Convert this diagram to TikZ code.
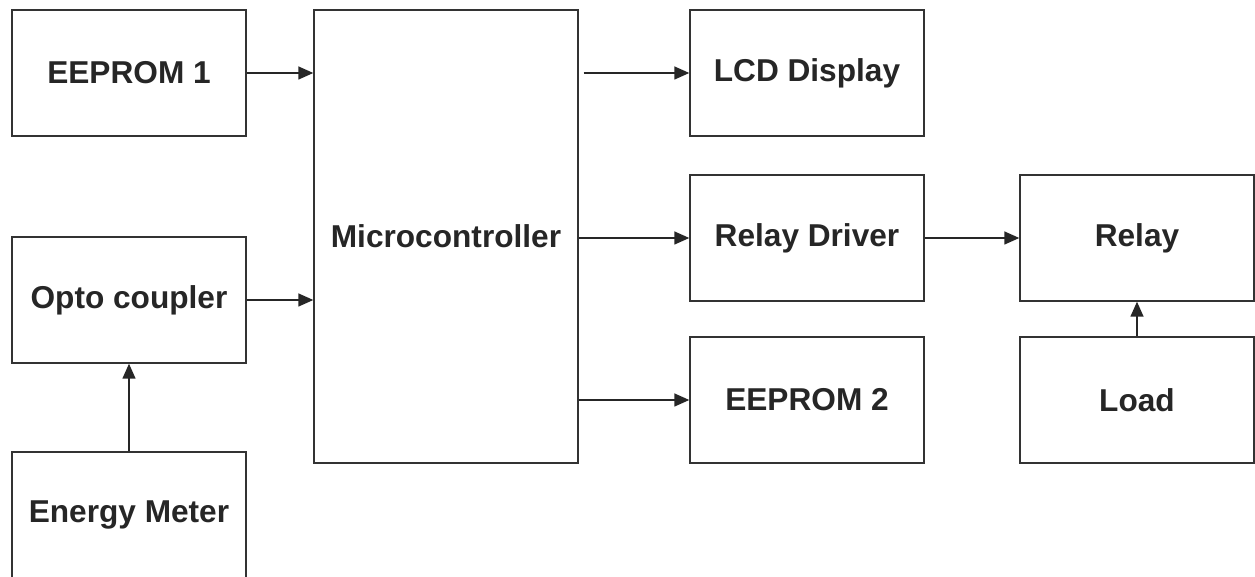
\documentclass[tikz,border=0pt]{standalone}
\usepackage{fontspec}
\setmainfont{Liberation Sans}
\usetikzlibrary{arrows.meta}

\begin{document}
\begin{tikzpicture}[x=0.02cm, y=-0.02cm,
        block/.style={draw=black!80, line width=0.8pt, minimum width=4.68cm, minimum height=2.52cm,
            inner sep=0pt, font=\fontsize{18}{21}\selectfont\bfseries, text=black!85},
        link/.style={draw=black!85, line width=0.8pt, -{Triangle[length=3mm, width=2.6mm]}}]
        \useasboundingbox (0,0) rectangle (1255,577);

        % bloky vlevo
        \node[block] (eeprom1) at (129,73) {EEPROM 1};
        \node[block] (opto) at (129,300) {Opto coupler};
        \node[block] (meter) at (129,515) {Energy Meter};

        % mikrokontroler
        \node[block, minimum width=5.28cm, minimum height=9.06cm] (mcu) at (446,236.5) {Microcontroller};

        % bloky vpravo
        \node[block] (lcd) at (807,73) {LCD Display};
        \node[block] (driver) at (807,238) {Relay Driver};
        \node[block] (eeprom2) at (807,400) {EEPROM 2};
        \node[block] (relay) at (1137,238) {Relay};
        \node[block] (load) at (1137,400) {Load};

        % spoje
        \draw[link] (eeprom1.east) -- (eeprom1.east -| mcu.west);
        \draw[link] (opto.east) -- (opto.east -| mcu.west);
        \draw[link] (meter.north) -- (opto.south);
        \draw[link] ([xshift=0.1cm]mcu.east |- lcd.west) -- (lcd.west);
        \draw[link] (mcu.east |- driver.west) -- (driver.west);
        \draw[link] (mcu.east |- eeprom2.west) -- (eeprom2.west);
        \draw[link] (driver.east) -- (relay.west);
        \draw[link] (load.north) -- (relay.south);

    \end{tikzpicture}
\end{document}
